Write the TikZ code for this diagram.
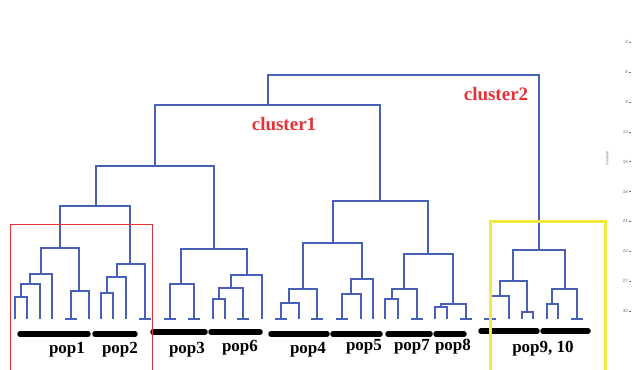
\documentclass[tikz,border=0pt]{standalone}
\usepackage{fontspec}
\setmainfont{Liberation Serif}
\setsansfont{Liberation Sans}
\definecolor{treeblue}{RGB}{72,96,184}
\definecolor{clred}{RGB}{232,48,56}
\definecolor{boxyellow}{RGB}{240,234,60}
\definecolor{axgrey}{RGB}{110,110,110}
\begin{document}
\begin{tikzpicture}[x=1pt,y=-1pt,
  tree/.style={draw=treeblue,line width=1.3pt},
  popbar/.style={draw=black,line width=5.5pt,line cap=round},
  poplabel/.style={font=\fontsize{17}{17}\selectfont\bfseries,text=black,inner sep=0pt},
  cluster/.style={font=\fontsize{19}{19}\selectfont\bfseries,text=clred,inner sep=0pt},
  axlabel/.style={font=\sffamily\fontsize{4.5}{4.5}\selectfont,text=axgrey,inner sep=0pt,anchor=east}]
\useasboundingbox (0,0) rectangle (633,370);
% internal nodes
\coordinate (R) at (403,75);
\coordinate (C1) at (268,105);
\coordinate (C2) at (539,250);
\coordinate (L) at (155,166);
\coordinate (Rt) at (380,201);
\coordinate (P12) at (96,206);
\coordinate (P36) at (214,249);
\coordinate (P1) at (60,248);
\coordinate (P2) at (130,264);
\coordinate (a) at (41,274);
\coordinate (a1) at (30,284);
\coordinate (a2) at (21,297);
\coordinate (b) at (79,291);
\coordinate (c) at (117,277);
\coordinate (c1) at (107,293);
\coordinate (P3) at (181,284);
\coordinate (P6) at (247,275);
\coordinate (d) at (231,288);
\coordinate (d1) at (219,299);
\coordinate (P45) at (333,243);
\coordinate (P78) at (428,254);
\coordinate (P4) at (303,289);
\coordinate (e) at (289,303);
\coordinate (P5) at (362,279);
\coordinate (f) at (351,294);
\coordinate (P7) at (404,289);
\coordinate (g) at (392,299);
\coordinate (P8) at (453,304);
\coordinate (h) at (441,307);
\coordinate (A9) at (513,281);
\coordinate (i9) at (500,296);
\coordinate (j9) at (527,312);
\coordinate (B9) at (565,289);
\coordinate (k9) at (552,304);
% leaves
\foreach \n/\x in {1/15,2/27,3/40,4/52,5/71,6/89,7/101,8/113,9/126,10/145,
  11/170,12/194,13/213,14/225,15/243,16/262,17/281,18/299,19/317,20/342,
  21/361,22/373,23/385,24/398,25/417,26/435,27/447,28/466,29/490,30/509,
  31/522,32/533,33/547,34/558,35/577}
  \coordinate (l\n) at (\x,319);
% merges
\foreach \p/\c/\d in {a2/l1/l2, a1/a2/l3, a/a1/l4, b/l5/l6, P1/a/b,
  c1/l7/l8, c/c1/l9, P2/c/l10, P12/P1/P2,
  P3/l11/l12, d1/l13/l14, d/d1/l15, P6/d/l16, P36/P3/P6, L/P12/P36,
  e/l17/l18, P4/e/l19, f/l20/l21, P5/f/l22, P45/P4/P5,
  g/l23/l24, P7/g/l25, h/l26/l27, P8/h/l28, P78/P7/P8, Rt/P45/P78, C1/L/Rt,
  i9/l29/l30, j9/l31/l32, A9/i9/j9, k9/l33/l34, B9/k9/l35, C2/A9/B9, R/C1/C2}
  \draw[tree] (\c) |- (\p) -| (\d);
% leaf ticks
\foreach \n in {5,10,11,12,15,17,19,20,25,28,29,35}
  \draw[tree] ([xshift=-6pt]l\n) -- ([xshift=6pt]l\n);
% population bars
\draw[popbar] (20,334) -- (88,334);
\draw[popbar] (95,334) -- (135,334);
\draw[popbar] (153,332) -- (205,332);
\draw[popbar] (211,332) -- (260,332);
\draw[popbar] (271,334) -- (327,334);
\draw[popbar] (333,334) -- (380,334);
\draw[popbar] (388,334) -- (430,334);
\draw[popbar] (436,334) -- (464,334);
\draw[popbar] (481,331) -- (537,331);
\draw[popbar] (543,331) -- (588,331);
% population labels
\node[poplabel] (t1) at (67,350) {pop1};
\node[poplabel] (t2) at (120,350) {pop2};
\node[poplabel] (t3) at (187,350) {pop3};
\node[poplabel] (t6) at (240,348) {pop6};
\node[poplabel] (t4) at (308,350) {pop4};
\node[poplabel] (t5) at (364,347) {pop5};
\node[poplabel] (t7) at (412,347) {pop7};
\node[poplabel] (t8) at (453,347) {pop8};
\node[poplabel] (t9) at (543,349) {pop9, 10};
% cluster labels
\node[cluster] (cl1) at (284,124) {cluster1};
\node[cluster] (cl2) at (496,94) {cluster2};
% highlight boxes
\draw[clred,line width=0.9pt] (10,371) -- (10,224) -- (152.5,224) -- (152.5,371);
\draw[boxyellow,line width=3pt] (490,371) -- (490,221) -- (605.5,221) -- (605.5,371);
% axis
\foreach \v in {3,6,...,30} {
  \node[axlabel] (ax\v) at (628,{42+(\v-3)*29.9/3}) {\v};
  \draw[axgrey,line width=0.4pt] (ax\v.east) ++(0.6,0) -- ++(2.2,0);
}
\node[font=\sffamily\fontsize{3.6}{3.6}\selectfont,text=axgrey,rotate=90,inner sep=0pt] (dist) at (607,158) {Distance};
\end{tikzpicture}
\end{document}
